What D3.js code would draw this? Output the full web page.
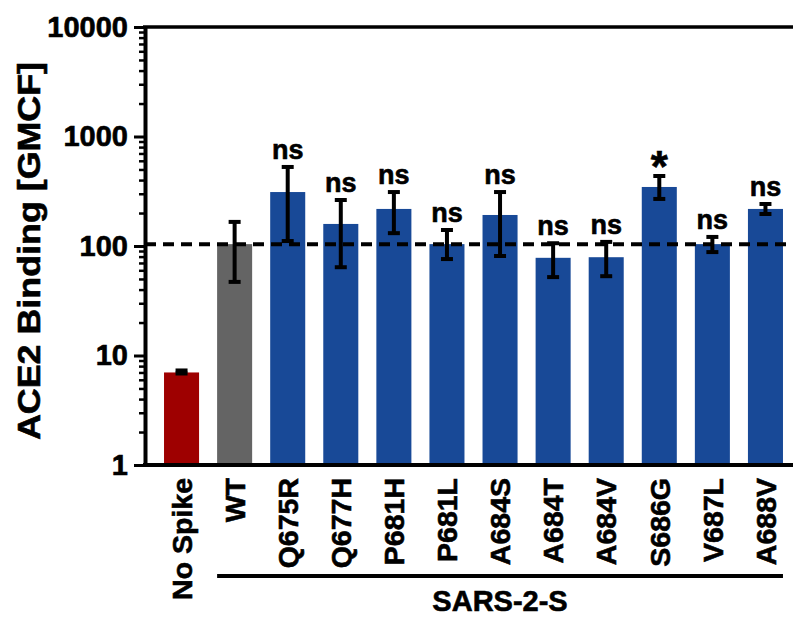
<!DOCTYPE html>
<html>
<head>
<meta charset="utf-8">
<script src="https://cdn.jsdelivr.net/npm/d3@7"></script>
<style>
  body { margin: 0; background: #fff; }
  svg { display: block; }
  text { font-family: "Liberation Sans", Arial, Helvetica, sans-serif; font-weight: bold; fill: #000; stroke: #000; stroke-width: 0.6px; }
</style>
</head>
<body>
<div id="chart"></div>
<script>
// values (geometric mean channel fluorescence)
const categories = ['No Spike', 'WT', 'Q675R', 'Q677H', 'P681H', 'P681L', 'A684S', 'A684T', 'A684V', 'S686G', 'V687L', 'A688V'];
const means   = [7.0, 104, 311, 159, 218, 104, 192, 78, 79, 346, 104, 218];
const errHigh = [7.3, 166, 527, 263, 311, 140, 311, 106, 109, 436, 121, 242];
const errLow  = [6.85, 47, 111, 64, 131, 76, 81, 52, 53, 269, 88, 196];
const signif  = ['', '', 'ns', 'ns', 'ns', 'ns', 'ns', 'ns', 'ns', '*', 'ns', 'ns'];
const yMajorTicks = [1, 10, 100, 1000, 10000];
const groupLabel = 'SARS-2-S';
const groupMembers = categories.slice(1);

const width = 793, height = 617;
const barColor = (c) => c === 'No Spike' ? '#9e0000' : (c === 'WT' ? '#646464' : '#184997');

const svg = d3.select('#chart').append('svg').attr('width', width).attr('height', height);

const y = d3.scaleLog().domain([1, 10000]).range([465, 27]);
const x = d3.scaleBand().domain(categories).range([155, 792]).paddingInner(0.34).paddingOuter(0.17);

// minor ticks 2..9 in each decade
const minorTicks = [];
for (let p = 1; p < 10000; p *= 10) for (let k = 2; k <= 9; k++) minorTicks.push(p * k);

// bars
svg.append('g').selectAll('rect').data(categories).enter().append('rect')
  .attr('x', d => x(d))
  .attr('width', x.bandwidth())
  .attr('y', (d, i) => y(means[i]))
  .attr('height', (d, i) => y(1) - y(means[i]))
  .attr('fill', d => barColor(d));

// reference dashed line at WT level
svg.append('line')
  .attr('x1', 145).attr('x2', width)
  .attr('y1', y(means[1])).attr('y2', y(means[1]))
  .attr('stroke', '#000').attr('stroke-width', 4)
  .attr('stroke-dasharray', '11,7');

// error bars
const eb = svg.append('g').attr('stroke', '#000');
categories.forEach((c, i) => {
  const cx = x(c) + x.bandwidth() / 2;
  eb.append('line').attr('x1', cx).attr('x2', cx)
    .attr('y1', y(errHigh[i])).attr('y2', y(errLow[i])).attr('stroke-width', 4);
  [errHigh[i], errLow[i]].forEach(v => {
    eb.append('line').attr('x1', cx - 6).attr('x2', cx + 6)
      .attr('y1', y(v)).attr('y2', y(v)).attr('stroke-width', 4);
  });
});

// significance labels
categories.forEach((c, i) => {
  if (!signif[i]) return;
  const cx = x(c) + x.bandwidth() / 2;
  const star = signif[i] === '*';
  svg.append('text')
    .attr('x', cx)
    .attr('y', y(errHigh[i]) - (star ? -6 : 8))
    .attr('text-anchor', 'middle')
    .style('font-size', star ? '44px' : '27px')
    .text(signif[i]);
});

// y axis: minor then major ticks
const gMinor = svg.append('g').attr('transform', 'translate(145,0)')
  .call(d3.axisLeft(y).tickValues(minorTicks).tickSize(6).tickFormat(''));
gMinor.select('.domain').remove();
gMinor.selectAll('.tick line').attr('stroke-width', 2.5);

const gy = svg.append('g').attr('transform', 'translate(145,0)')
  .call(d3.axisLeft(y).tickValues(yMajorTicks).tickSize(11).tickSizeOuter(0).tickPadding(6).tickFormat(d3.format('d')));
gy.select('.domain').attr('stroke-width', 4);
gy.selectAll('.tick line').attr('stroke-width', 3);
gy.selectAll('.tick text').style('font-size', '29px').attr('font-family', null);

// top frame and bottom axis lines
svg.append('line').attr('x1', 143).attr('x2', width).attr('y1', 27).attr('y2', 27)
  .attr('stroke', '#000').attr('stroke-width', 3.5);
svg.append('line').attr('x1', 143).attr('x2', width).attr('y1', 465).attr('y2', 465)
  .attr('stroke', '#000').attr('stroke-width', 4);

// x labels (rotated)
svg.append('g').selectAll('text').data(categories).enter().append('text')
  .attr('transform', d => `translate(${x(d) + x.bandwidth() / 2},478) rotate(-90)`)
  .attr('text-anchor', 'end')
  .attr('dy', '0.36em')
  .style('font-size', '28.5px')
  .text(d => d);

// group bracket
const gx1 = x(groupMembers[0]);
const gx2 = x(groupMembers[groupMembers.length - 1]) + x.bandwidth();
svg.append('line').attr('x1', gx1).attr('x2', gx2).attr('y1', 576).attr('y2', 576)
  .attr('stroke', '#000').attr('stroke-width', 4);
svg.append('text')
  .attr('x', (gx1 + gx2) / 2).attr('y', 611)
  .attr('text-anchor', 'middle')
  .style('font-size', '29px')
  .text(groupLabel);

// y axis title
svg.append('text')
  .attr('transform', 'translate(40,251) rotate(-90)')
  .attr('text-anchor', 'middle')
  .attr('textLength', 378)
  .attr('lengthAdjust', 'spacingAndGlyphs')
  .style('font-size', '31px')
  .text('ACE2 Binding [GMCF]');
</script>
</body>
</html>
